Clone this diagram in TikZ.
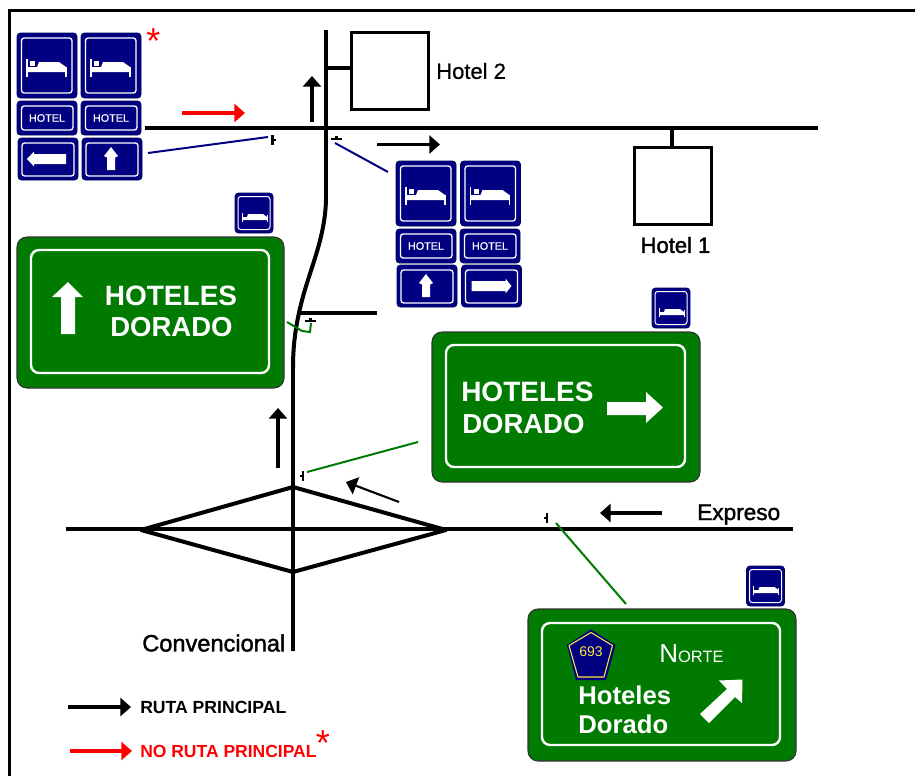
\documentclass[tikz,border=0pt]{standalone}
\usepackage{fontspec}
\setmainfont{Liberation Sans}
\newfontfamily\semib[FakeBold=0.7]{Liberation Sans}
\newfontfamily\semibb[FakeBold=1.6]{Liberation Sans}
\usetikzlibrary{arrows.meta}
\definecolor{signblue}{RGB}{0,0,128}
\definecolor{signgreen}{RGB}{0,122,0}
\definecolor{arrowred}{RGB}{255,0,0}
\definecolor{shieldyellow}{RGB}{255,230,60}
\newcommand{\pxfont}[1]{\pgfmathsetmacro{\fsz}{#1*0.75}\pgfmathsetmacro{\lsz}{#1*0.9}\fontsize{\fsz pt}{\lsz pt}\selectfont}
\tikzset{
  road/.style={draw=black,line width=2.4pt},
  bentroad/.style={draw=black,line width=3pt},
  fatroad/.style={draw=black,line width=3pt,line join=round},
  flow/.style={draw=black,line width=2.3pt,-{Triangle[length=8pt,width=13.5pt]}},
  redflow/.style={flow,draw=arrowred,fill=arrowred,-{Triangle[length=8pt,width=13.5pt,color=arrowred]}},
  bluelead/.style={draw=signblue,line width=1.5pt},
  greenlead/.style={draw=signgreen,line width=1.5pt},
  post/.style={draw=black,line width=1.9pt},
  hotelbox/.style={draw=black,line width=2.6pt,fill=white,inner sep=0pt,minimum width=77pt*0.75,minimum height=77pt*0.75},
  lbl/.style={inner sep=0pt,text=black},
  navyplate/.style={fill=signblue,draw=signblue!70!black,line width=.5pt,rounded corners=2.5pt},
  whiteline/.style={draw=white,line width=1pt,rounded corners=2pt},
  greenplate/.style={fill=signgreen,draw=black!80,line width=.8pt,rounded corners=7.5pt},
  greenline/.style={draw=white,line width=1.8pt,rounded corners=6pt},
  signtxt/.style={inner sep=0pt,text=white,font=\bfseries},
}
\newcommand{\bedshape}{%
  \fill[white] (10,34)--(20,34)--(22,29)--(42,29)--(49,34)--(49,39)--(10,39)--cycle;
  \fill[white] (13,28) rectangle (18,33);
  \draw[white,line width=.8pt] (10,26)--(10,44) (49,34)--(49,44);
}
\newcommand{\smallbedshape}{%
  \fill[white] (7,24)--(12,24)--(13,21)--(28,21)--(32,24)--(32,27)--(7,27)--cycle;
  \draw[white,line width=.6pt] (7,20)--(7,29) (32,22)--(32,29);
}
\newcommand{\bigbed}[2]{\begin{scope}[shift={(#1,#2)}]
  \path[navyplate] (0,0) rectangle (60,65);
  \path[whiteline] (4.5,5) rectangle (55,60);
  \bedshape
\end{scope}}
\newcommand{\smallbed}[2]{\begin{scope}[shift={(#1,#2)}]
  \path[navyplate] (0,0) rectangle (38,40);
  \path[whiteline,line width=.75pt] (3,3.5) rectangle (35,36.5);
  \smallbedshape
\end{scope}}
\newcommand{\hotelsign}[2]{\begin{scope}[shift={(#1,#2)}]
  \path[navyplate] (0,0) rectangle (60,34);
  \path[whiteline] (4.5,5) rectangle (56,29);
  \node[inner sep=0pt,text=white] at (30,17) {\semib\pxfont{10.8}HOTEL};
\end{scope}}
\newcommand{\arrowplate}[2]{%
  \path[navyplate] (#1,#2) rectangle ++(60,42);
  \path[whiteline] (#1+4,#2+5) rectangle ++(52,33);}
\newcommand{\leftsign}[2]{\arrowplate{#1}{#2}\begin{scope}[shift={(#1,#2)}]
  \fill[white] (9,21)--(16,13.5)--(16,16)--(48,16)--(48,26)--(16,26)--(16,28.5)--cycle;
\end{scope}}
\newcommand{\rightsign}[2]{\arrowplate{#1}{#2}\begin{scope}[shift={(#1,#2)}]
  \fill[white] (50,21)--(44,13.5)--(44,16)--(10,16)--(10,26)--(44,26)--(44,28.5)--cycle;
\end{scope}}
\newcommand{\upsign}[2]{\arrowplate{#1}{#2}\begin{scope}[shift={(#1,#2)}]
  \fill[white] (29,9)--(36,18)--(33,19.5)--(33,32)--(25,32)--(25,19.5)--(22,18)--cycle;
\end{scope}}
\begin{document}
\begin{tikzpicture}[x=0.75pt,y=-0.75pt]
\useasboundingbox (0,0) rectangle (915,776);
\fill[white] (0,0) rectangle (915,776);
% frame
\draw[black,line width=2.7pt] (915,10.5) -- (9.5,10.5) -- (9.5,776);

% coordinates
\coordinate (topW) at (145,128); \coordinate (topE) at (818,128);
\coordinate (vN) at (326,30); \coordinate (vS) at (293,651);
\coordinate (bendN) at (326,200); \coordinate (bendS) at (293,368);
\coordinate (mainW) at (66,529); \coordinate (mainE) at (793,529);
\coordinate (dW) at (141,530); \coordinate (dN) at (293,487);
\coordinate (dE) at (446,530); \coordinate (dS) at (293,572);
\coordinate (branchW) at (298,313); \coordinate (branchE) at (377,313);

% roads
\draw[road] (topW) -- (topE);
\draw[road] (mainW) -- (mainE);
\draw[road] (vN) -- (bendN);
\draw[bentroad] (bendN) .. controls (325,235) and (313,262) .. (304,293) .. controls (297,318) and (293,340) .. (bendS);
\draw[road] (bendS) -- (vS);
\draw[road] (branchW) -- (branchE);
\draw[fatroad] (dW) -- (dN) -- (dE) -- (dS) -- cycle;

% hotels
\node[hotelbox] (hotelB) at (390,71) {};
\node[hotelbox] (hotelA) at (673,186) {};
\coordinate (j2) at (326,68);
\draw[road] (j2) -- (hotelB.west |- j2);
\coordinate (j1) at (672,128);
\draw[road] (j1) -- (j1 |- hotelA.north);
\node[lbl,anchor=west] (lblB) at (436,71) {\semib\pxfont{22}Hotel 2};
\node[lbl,anchor=center] (lblA) at (675.5,245) {\semibb\pxfont{22}Hotel 1};

% flow arrows
\coordinate (a1s) at (312,122); \coordinate (a1e) at (312,76);
\coordinate (a2s) at (377,144.5); \coordinate (a2e) at (440,144.5);
\coordinate (a3s) at (182,113); \coordinate (a3e) at (245,113);
\coordinate (a4s) at (278,468); \coordinate (a4e) at (278,408);
\coordinate (a5s) at (399,502); \coordinate (a5e) at (346,482);
\coordinate (a6s) at (662,513); \coordinate (a6e) at (600,513);
\draw[flow] (a1s) -- (a1e);
\draw[flow] (a2s) -- (a2e);
\draw[redflow] (a3s) -- (a3e);
\draw[flow] (a4s) -- (a4e);
\draw[flow,line width=1.6pt] (a5s) -- (a5e);
\draw[flow] (a6s) -- (a6e);

% sign posts
\draw[post] (272.5,135) -- (272.5,145) (272.5,140) -- (276,140);
\draw[post] (331,139) -- (342,139) (336.5,135.5) -- (336.5,139);
\draw[post] (305,321) -- (316,321) (310.5,317.5) -- (310.5,321);
\draw[post] (303,471) -- (303,481) (303,476) -- (299.5,476);
\draw[post] (547,512.5) -- (547,523) (547,518) -- (543.5,518);

% leaders
\coordinate (l1a) at (148,153); \coordinate (l1b) at (268,137);
\coordinate (l2a) at (335,143); \coordinate (l2b) at (388,172);
\coordinate (l3a) at (307,472); \coordinate (l3b) at (418,442);
\coordinate (l4a) at (556,523); \coordinate (l4b) at (626,604);
\draw[bluelead] (l1a) -- (l1b);
\draw[bluelead] (l2a) -- (l2b);
\draw[greenlead] (l3a) -- (l3b);
\draw[greenlead] (l4a) -- (l4b);
\draw[greenlead] (287,322) -- (302,331) -- (310,332) -- (311,323);

% blue sign groups
\bigbed{17}{33}\bigbed{81}{33}
\hotelsign{17}{101}\hotelsign{81}{101}
\leftsign{18}{138}\upsign{82}{138}
\bigbed{396}{161}\bigbed{460.5}{161}
\hotelsign{396}{229}\hotelsign{460}{229}
\upsign{397}{265}\rightsign{461.5}{265}
\smallbed{235}{193}\smallbed{652}{288}\smallbed{746.5}{566}

% green sign A
\path[greenplate] (17,237) rectangle (284,388);
\path[greenline] (31,250) rectangle (269,373);
\fill[white] (68,282)--(83,297)--(75,297)--(75,334)--(61,334)--(61,297)--(52,297)--cycle;
\node[signtxt] (tA1) at (171,295.5) {\pxfont{28}HOTELES};
\node[signtxt] (tA2) at (171.5,327.5) {\pxfont{27.5}DORADO};

% green sign B
\path[greenplate] (432,332) rectangle (700,482);
\path[greenline] (446,345) rectangle (685,467);
\fill[white] (607,402)--(646,402)--(646,392)--(663,407.5)--(646,423)--(646,415)--(607,415)--cycle;
\node[signtxt,anchor=west] (tB1) at (461,392) {\pxfont{28}HOTELES};
\node[signtxt,anchor=west] (tB2) at (462,424) {\pxfont{27.5}DORADO};

% green sign C
\path[greenplate] (528,609) rectangle (796,761);
\path[greenline] (542,623) rectangle (780,745);
\fill[signblue] (591,629.5)--(615.5,645)--(606,680)--(576,680)--(567,645)--cycle;
\draw[shieldyellow,line width=.8pt,line join=round] (591,632.5)--(612.5,645.5)--(604,677)--(578,677)--(569,645.5)--cycle;
\node[inner sep=0pt,text=shieldyellow] (shieldno) at (591,651.5) {\pxfont{14}693};
\node[inner sep=0pt,text=white,anchor=base west] (norte) at (659,662) {\pxfont{26}N\pxfont{16.5}ORTE};
\node[signtxt,anchor=west] (tC1) at (578,695) {\pxfont{25.7}Hoteles};
\node[signtxt,anchor=west] (tC2) at (578,724) {\pxfont{25.7}Dorado};
\fill[white] (742.5,679.5)--(719,680.5)--(727,689)--(700,714)--(709,723)--(735,697)--(742,703)--cycle;

% labels
\node[lbl,anchor=base west] (expreso) at (697,520) {\semibb\pxfont{22.6}Expreso};
\node[lbl,anchor=west] (conv) at (142,643) {\semibb\pxfont{23.6}Convencional};

% legend
\coordinate (k1s) at (68,707); \coordinate (k1e) at (131,707);
\coordinate (k2s) at (70,751); \coordinate (k2e) at (132,751);
\draw[flow] (k1s) -- (k1e);
\draw[redflow] (k2s) -- (k2e);
\node[lbl,anchor=west] (k1) at (140,707) {\pxfont{17.6}\bfseries RUTA PRINCIPAL};
\node[lbl,anchor=west,text=arrowred] (k2) at (140,751) {\pxfont{17.5}\bfseries NO RUTA PRINCIPAL};
\node[inner sep=0pt,text=arrowred] (star1) at (153.5,41) {\pxfont{36}*};
\node[inner sep=0pt,text=arrowred] (star2) at (323,743.5) {\pxfont{36}*};
\end{tikzpicture}
\end{document}
